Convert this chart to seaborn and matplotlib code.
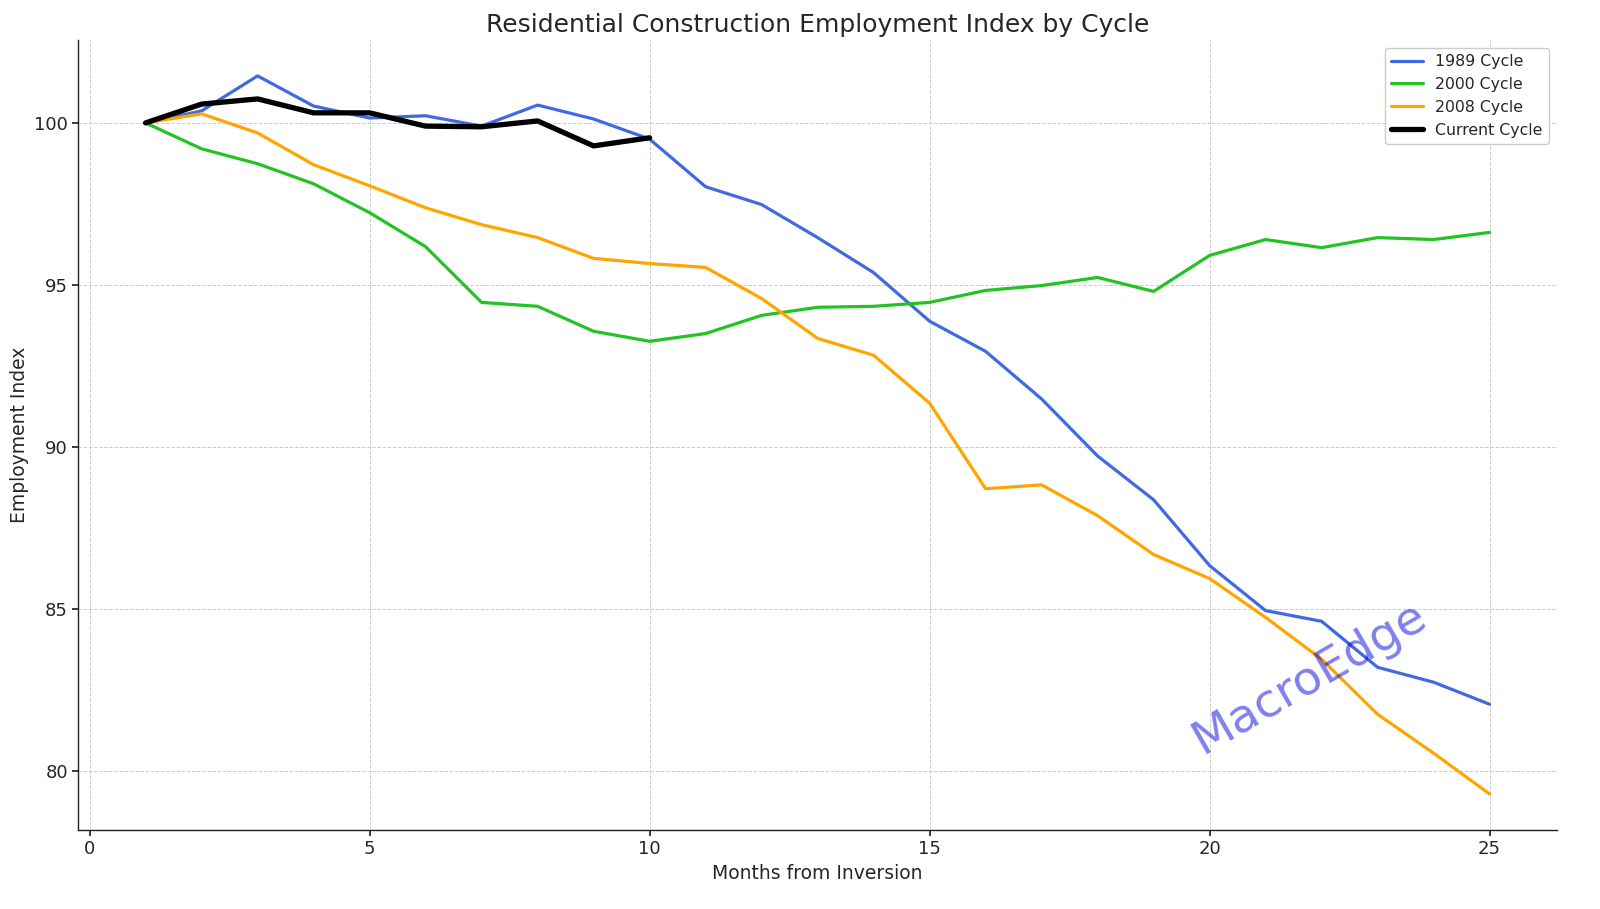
import numpy as np
import pandas as pd
import matplotlib
matplotlib.use("Agg")
import matplotlib.pyplot as plt
import seaborn as sns

months = list(range(1, 26))
cycle_1989 = [100.0, 100.37, 101.45, 100.52, 100.15, 100.22, 99.9, 100.55, 100.12, 99.5,
              98.03, 97.48, 96.46, 95.38, 93.88, 92.95, 91.48, 89.72, 88.37, 86.34,
              84.95, 84.62, 83.2, 82.74, 82.06]
cycle_2000 = [100.0, 99.2, 98.74, 98.12, 97.23, 96.18, 94.46, 94.34, 93.57, 93.26,
              93.5, 94.06, 94.31, 94.34, 94.46, 94.83, 94.98, 95.23, 94.8, 95.91,
              96.4, 96.15, 96.46, 96.4, 96.62]
cycle_2008 = [100.0, 100.28, 99.69, 98.71, 98.06, 97.38, 96.86, 96.46, 95.82, 95.66,
              95.54, 94.58, 93.35, 92.83, 91.35, 88.71, 88.83, 87.88, 86.68, 85.94,
              84.74, 83.45, 81.75, 80.55, 79.29]
current_months = list(range(1, 11))
current_cycle = [100.0, 100.58, 100.74, 100.31, 100.31, 99.9, 99.88, 100.06, 99.29, 99.54]

sns.set_theme(style="white")
plt.rcParams['font.family'] = ['DejaVu Sans']

fig, ax = plt.subplots(figsize=(16, 9.09), dpi=100)
fig.subplots_adjust(left=0.049, right=0.973, top=0.956, bottom=0.087)

sns.lineplot(x=months, y=cycle_1989, ax=ax, color="#4169E1", linewidth=2.3, label="1989 Cycle")
sns.lineplot(x=months, y=cycle_2000, ax=ax, color="#22C322", linewidth=2.3, label="2000 Cycle")
sns.lineplot(x=months, y=cycle_2008, ax=ax, color="#FFA500", linewidth=2.3, label="2008 Cycle")
sns.lineplot(x=current_months, y=current_cycle, ax=ax, color="black", linewidth=3.8, label="Current Cycle")

ax.set_title("Residential Construction Employment Index by Cycle", fontsize=18)
ax.set_xlabel("Months from Inversion", fontsize=13.5)
ax.set_ylabel("Employment Index", fontsize=13.5)
ax.tick_params(axis="both", labelsize=13, length=4, color="#222222", left=True, bottom=True)
ax.set_xticks([0, 5, 10, 15, 20, 25])
ax.set_yticks([80, 85, 90, 95, 100])
ax.grid(True, linestyle="--", linewidth=0.7, color="#cccccc")
for s in ["top", "right"]:
    ax.spines[s].set_visible(False)
for s in ["left", "bottom"]:
    ax.spines[s].set_color("#222222")
    ax.spines[s].set_linewidth(1.0)

leg = ax.legend(loc="upper right", fontsize=11.3, frameon=True, framealpha=1, edgecolor="#cccccc", fancybox=True)

ax.text(0.833, 0.192, "MacroEdge", transform=ax.transAxes, fontsize=34, color="#0000DD",
        alpha=0.5, rotation=30, ha="center", va="center", zorder=10)

fig.savefig("out.png", dpi=100)
